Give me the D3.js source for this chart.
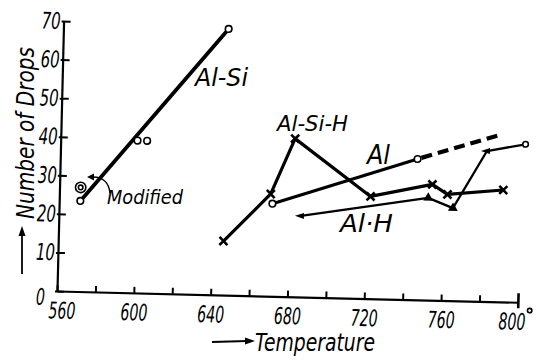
<!DOCTYPE html>
<html><head><meta charset="utf-8">
<script src="https://cdn.jsdelivr.net/npm/d3@7"></script>
<style>
html,body{margin:0;padding:0;background:#fff;}
svg{display:block;background:#fff;}
text{font-family:"Liberation Sans Narrow","DejaVu Sans Condensed","Liberation Sans",sans-serif;font-style:italic;fill:#000;}
</style></head><body>
<svg id="chart" width="542" height="363"></svg>
<script>
// ---- data ----
const xTicks = [560,580,600,620,640,660,680,700,720,740,760,780,800];
const xTickLabels = [560,600,640,680,720,760,800];
const yTicks = [0,10,20,30,40,50,60,70];

const alSiTemp  = [571, 600, 605, 646];
const alSiDrops = [23.5, 39.5, 39.5, 69];
const modifiedTemp  = [571];
const modifiedDrops = [27];

const alSiHTemp  = [646, 670, 682, 722, 754, 762, 791];
const alSiHDrops = [14, 26.5, 41, 26.5, 30, 27.5, 29];

const alTemp  = [671, 746];
const alDrops = [24, 36.5];
const alDashTemp  = [746, 790];
const alDashDrops = [36.5, 43.5];

const alHTemp  = [686, 752, 765, 782, 802];
const alHDrops = [21, 26.5, 24, 39, 41];

const seriesNames = ["Al-Si", "Al-Si-H", "Al", "Al·H"];
const modifiedLabel = "Modified";
const xTitle = "Temperature";
const yTitle = "Number of Drops";

// ---- drawing ----
const svg = d3.select("#chart");

const zip = (t, v) => t.map((d, i) => ({t: d, v: v[i]}));

const x = d3.scaleLinear().domain([560, 800]).range([0, 461]);
const y = d3.scaleLinear().domain([0, 70]).range([0, -270]);
const line = d3.line().x(d => x(d.t)).y(d => y(d.v));

const g = svg.append("g").attr("transform", "translate(57,291) rotate(1.4)");

// axes
const xAxis = d3.axisBottom(x).tickValues(xTicks).tickSize(-6).tickSizeOuter(0).tickPadding(11)
  .tickFormat(d => xTickLabels.includes(d) ? d : "");
const gx = g.append("g").call(xAxis);
gx.select(".domain").attr("stroke", "#000").attr("stroke-width", 2.2);
gx.selectAll(".tick line").attr("stroke", "#000").attr("stroke-width", 2);
gx.selectAll(".tick").filter(d => d === 800).select("line").attr("y1", 6).attr("y2", -9).attr("stroke-width", 2.6);
gx.selectAll(".tick text").attr("font-size", 23).attr("font-family", null)
  .attr("textLength", 27).attr("lengthAdjust", "spacingAndGlyphs").attr("dy", "0.72em");
gx.selectAll(".tick").filter(d => d === 560).select("text").attr("dx", 5);
gx.selectAll(".tick").filter(d => d === 800).select("text").attr("dx", -6);

const yAxis = d3.axisLeft(y).tickValues(yTicks).tickSize(-7).tickSizeOuter(0).tickPadding(3);
const gy = g.append("g").call(yAxis);
gy.select(".domain").attr("stroke", "#000").attr("stroke-width", 2.2);
gy.selectAll(".tick line").attr("stroke", "#000").attr("stroke-width", 2).attr("x2", 7).attr("x1", -2);
gy.selectAll(".tick text").attr("font-size", 23).attr("font-family", null)
  .attr("textLength", 19).attr("lengthAdjust", "spacingAndGlyphs");
gy.selectAll(".tick").filter(d => d === 0).select("text").attr("x", -12).attr("dy", "0.6em").attr("textLength", 9);

// degree sign after 800
g.append("circle").attr("cx", x(800) + 12).attr("cy", 8).attr("r", 2.2)
  .attr("fill", "none").attr("stroke", "#000").attr("stroke-width", 1.6);

// ---- Al-Si ----
const alSi = zip(alSiTemp, alSiDrops);
g.append("path").datum([alSi[0], alSi[alSi.length - 1]]).attr("d", line)
  .attr("fill", "none").attr("stroke", "#000").attr("stroke-width", 3.8).attr("stroke-linecap", "round");
g.selectAll(".alsiPt").data(alSi).enter().append("circle")
  .attr("cx", d => x(d.t)).attr("cy", d => y(d.v)).attr("r", 3.3)
  .attr("fill", "#fff").attr("stroke", "#000").attr("stroke-width", 1.6);

// modified double circle
const mod = zip(modifiedTemp, modifiedDrops);
g.selectAll(".modO").data(mod).enter().append("circle")
  .attr("cx", d => x(d.t)).attr("cy", d => y(d.v)).attr("r", 5.2)
  .attr("fill", "#fff").attr("stroke", "#000").attr("stroke-width", 1.6);
g.selectAll(".modI").data(mod).enter().append("circle")
  .attr("cx", d => x(d.t)).attr("cy", d => y(d.v)).attr("r", 2.3)
  .attr("fill", "#fff").attr("stroke", "#000").attr("stroke-width", 1.6);

// ---- Al ----
const al = zip(alTemp, alDrops);
const alDash = zip(alDashTemp, alDashDrops);
g.append("path").datum(al).attr("d", line)
  .attr("fill", "none").attr("stroke", "#000").attr("stroke-width", 3.2);
g.append("path").datum(alDash).attr("d", line)
  .attr("fill", "none").attr("stroke", "#000").attr("stroke-width", 4.2)
  .attr("stroke-dasharray", "11,6").attr("stroke-dashoffset", -4);

// ---- Al-H ----
const alH = zip(alHTemp, alHDrops);
g.append("path").datum(alH).attr("d", line)
  .attr("fill", "none").attr("stroke", "#000").attr("stroke-width", 2.3).attr("stroke-linejoin", "round");
alH.forEach((d, i) => {
  const px = x(d.t), py = y(d.v);
  if (i === 0 || i === 3) {
    g.append("path").attr("d", "M-6,0L3,-3L3,3Z").attr("transform", `translate(${px},${py})`).attr("fill", "#000");
  } else if (i === alH.length - 1) {
    g.append("circle").attr("cx", px).attr("cy", py).attr("r", 2.8)
      .attr("fill", "#fff").attr("stroke", "#000").attr("stroke-width", 1.6);
  } else {
    g.append("path").attr("d", d3.symbol(d3.symbolTriangle).size(42)())
      .attr("transform", `translate(${px},${py})`).attr("fill", "#000");
  }
});

// ---- Al-Si-H ----
const alSiH = zip(alSiHTemp, alSiHDrops);
g.append("path").datum(alSiH).attr("d", line)
  .attr("fill", "none").attr("stroke", "#000").attr("stroke-width", 3.2).attr("stroke-linejoin", "round");
g.selectAll(".cross").data(alSiH).enter().append("path")
  .attr("d", "M-4,-4L4,4M-4,4L4,-4")
  .attr("transform", d => `translate(${x(d.t)},${y(d.v)})`)
  .attr("stroke", "#000").attr("stroke-width", 2.6).attr("fill", "none");

// Al circles drawn on top
g.selectAll(".alPt").data(al).enter().append("circle")
  .attr("cx", d => x(d.t)).attr("cy", d => y(d.v)).attr("r", 3.3)
  .attr("fill", "#fff").attr("stroke", "#000").attr("stroke-width", 1.6);

// ---- annotations (page coords) ----
const lab = svg.append("g");
function txt(s, px, py, fs, len) {
  lab.append("text").attr("x", px).attr("y", py).attr("font-size", fs)
    .attr("textLength", len).attr("lengthAdjust", "spacingAndGlyphs").text(s);
}
txt(seriesNames[0], 195, 86, 25, 53);
txt(seriesNames[1], 277, 131, 22, 71);
txt(seriesNames[2], 367, 164, 26, 23);
txt(seriesNames[3], 340, 232, 24, 53);
txt(modifiedLabel, 107, 204, 20, 76);

// curved arrow for "Modified"
lab.append("path").attr("d", "M110,193 C109,183 103,177 93,177")
  .attr("fill", "none").attr("stroke", "#000").attr("stroke-width", 1.5);
lab.append("path").attr("d", "M87,177L94,173.5L94,180.5Z").attr("fill", "#000");

// y title
lab.append("text").attr("transform", "translate(34,133) rotate(-90)")
  .attr("text-anchor", "middle").attr("font-size", 24)
  .attr("textLength", 172).attr("lengthAdjust", "spacingAndGlyphs").text(yTitle);
lab.append("line").attr("x1", 22).attr("y1", 274).attr("x2", 22).attr("y2", 234)
  .attr("stroke", "#000").attr("stroke-width", 1.8);
lab.append("path").attr("d", "M22,226L18.5,236L25.5,236Z").attr("fill", "#000");

// x title
lab.append("text").attr("x", 255).attr("y", 351).attr("font-size", 25)
  .attr("textLength", 120).attr("lengthAdjust", "spacingAndGlyphs").text(xTitle);
lab.append("line").attr("x1", 212).attr("y1", 342).attr("x2", 247).attr("y2", 341)
  .attr("stroke", "#000").attr("stroke-width", 1.8);
lab.append("path").attr("d", "M255,341L245,337.5L245,344.5Z").attr("fill", "#000");
</script>
</body></html>
